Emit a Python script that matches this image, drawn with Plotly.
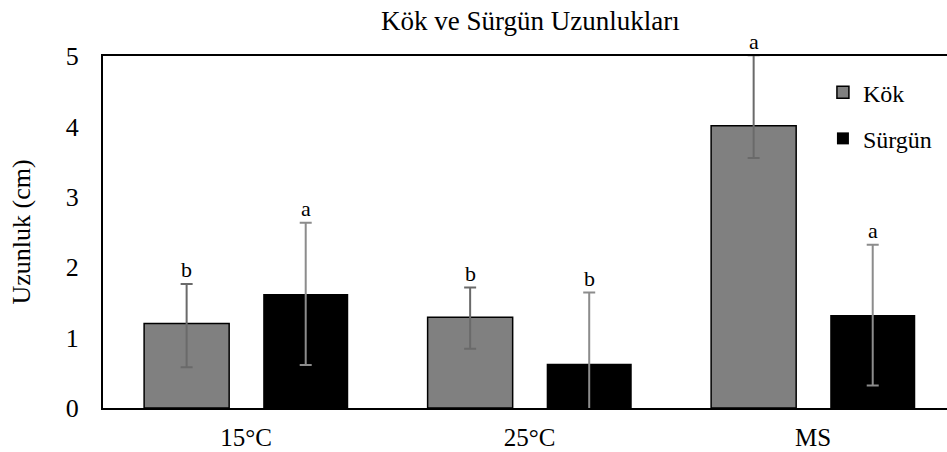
import plotly.graph_objects as go

# Categories and measured lengths (cm)
categories = ["15°C", "25°C", "MS"]
kok_values = [1.20, 1.29, 4.01]
kok_err_plus = [0.56, 0.42, 1.00]
kok_err_minus = [0.62, 0.45, 0.46]
surgun_values = [1.62, 0.63, 1.32]
surgun_err = [1.01, 1.01, 1.00]
kok_letters = ["b", "b", "a"]
surgun_letters = ["a", "b", "a"]

FONT = "Liberation Serif"

fig = go.Figure()
fig.add_trace(go.Bar(
    name="Kök", x=categories, y=kok_values,
    width=0.30, offset=-0.36,
    marker=dict(color="#808080", line=dict(color="#000000", width=1.5)),
    error_y=dict(type="data", symmetric=False, array=kok_err_plus,
                 arrayminus=kok_err_minus, color="#6a6a6a",
                 thickness=2, width=6),
    legendgroup="k",
))
fig.add_trace(go.Bar(
    name="Sürgün", x=categories, y=surgun_values,
    width=0.30, offset=0.06,
    marker=dict(color="#000000", line=dict(color="#000000", width=0)),
    error_y=dict(type="data", array=surgun_err, color="#8c8c8c",
                 thickness=2, width=6),
    legendgroup="s",
))

# Significance letters above the error bars
for i, c in enumerate(categories):
    fig.add_annotation(x=i - 0.21, y=min(kok_values[i] + kok_err_plus[i], 5.0),
                       text=kok_letters[i], showarrow=False, yanchor="bottom",
                       yshift=0, font=dict(family=FONT, size=22, color="#000"))
    fig.add_annotation(x=i + 0.21, y=surgun_values[i] + surgun_err[i],
                       text=surgun_letters[i], showarrow=False, yanchor="bottom",
                       yshift=0, font=dict(family=FONT, size=22, color="#000"))

fig.update_layout(
    width=947, height=452,
    margin=dict(l=103, r=0, t=56, b=44, autoexpand=False),
    paper_bgcolor="white", plot_bgcolor="white",
    barmode="overlay",
    font=dict(family=FONT, color="#000"),
    title=dict(text="Kök ve Sürgün Uzunlukları", x=0.56, xanchor="center",
               y=0.955, yanchor="middle", font=dict(family=FONT, size=27)),
    legend=dict(x=0.853, y=0.96, xanchor="left", yanchor="top",
                font=dict(family=FONT, size=24), traceorder="grouped",
                tracegroupgap=12, itemwidth=30, bgcolor="rgba(0,0,0,0)"),
    showlegend=True,
)
fig.update_xaxes(
    type="category", range=[-0.505, 2.472],
    showline=True, linecolor="#000", linewidth=2, mirror=True,
    showgrid=False, ticks="", ticklabelstandoff=6,
    tickfont=dict(family=FONT, size=25),
)
fig.update_yaxes(
    range=[0, 5], dtick=1, showline=True, linecolor="#000", linewidth=2,
    showgrid=False, zeroline=False, ticks="", ticklabelstandoff=17,
    tickfont=dict(family=FONT, size=26),
    title=dict(text="Uzunluk (cm)", font=dict(family=FONT, size=26), standoff=28),
)

fig.write_html("out.html")
